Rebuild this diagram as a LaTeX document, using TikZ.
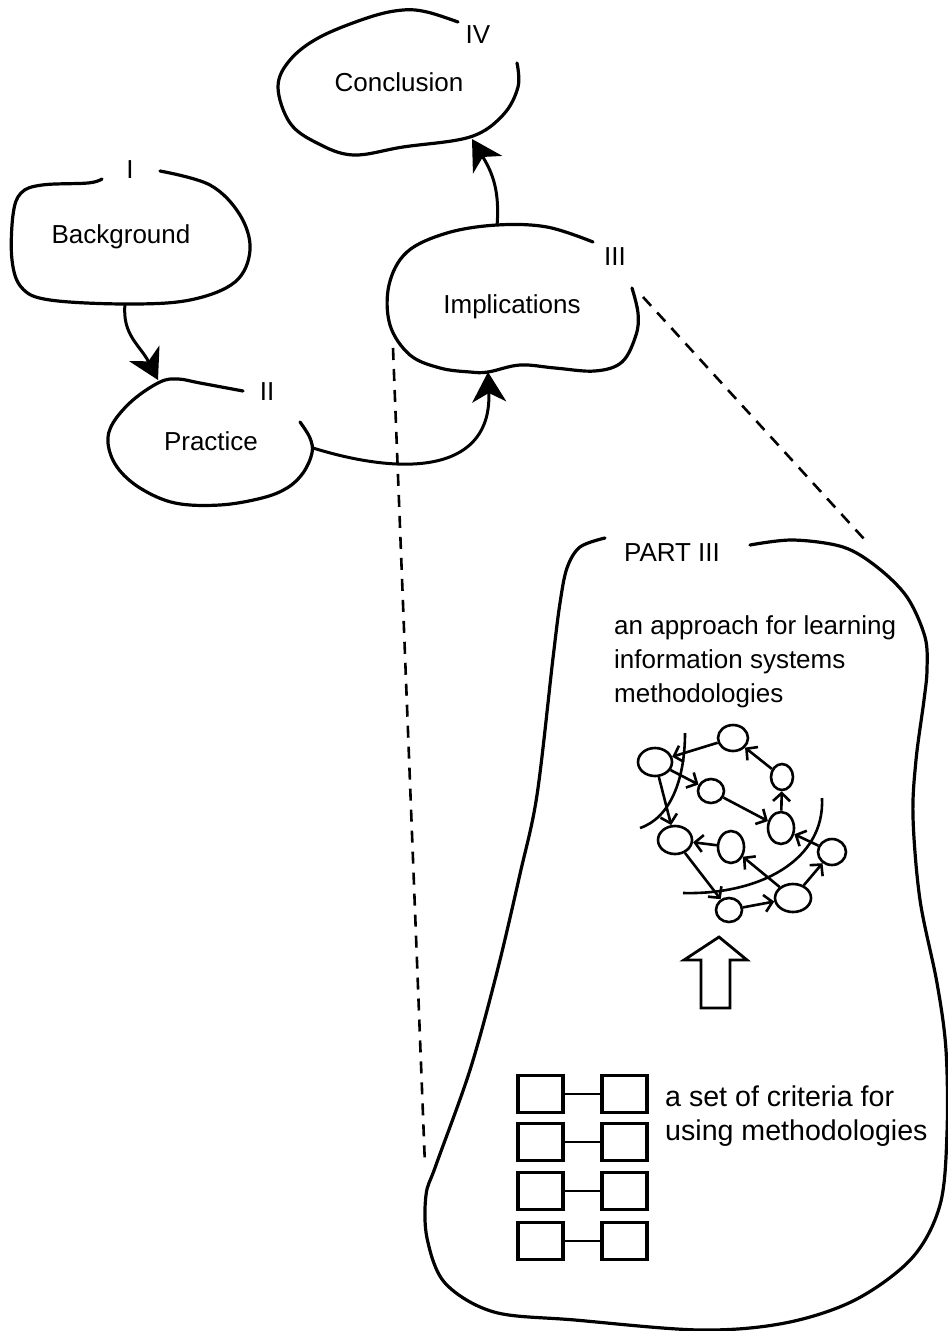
\documentclass[tikz,border=0pt]{standalone}
\usepackage{fontspec}
\setmainfont{Liberation Sans}
\usetikzlibrary{arrows.meta,shapes.geometric}

\begin{document}
\begin{tikzpicture}[x=1pt,y=-1pt,
  blob/.style={line width=3.2pt, line join=round, line cap=round},
  lbl/.style={font=\fontsize{26}{34}\selectfont, inner sep=0pt, anchor=base},
  txt/.style={font=\fontsize{26}{34}\selectfont, inner sep=0pt, anchor=base west},
  bigtxt/.style={font=\fontsize{28.6}{34}\selectfont, inner sep=0pt, anchor=base west},
  flow/.style={line width=3pt, -{Stealth[length=30pt,width=34pt,inset=9pt]}},
  guide/.style={line width=2.6pt, dash pattern=on 12pt off 9pt},
  bubble/.style={draw, ellipse, line width=2.6pt, inner sep=0pt},
  netedge/.style={line width=2.6pt, -{Straight Barb[length=8pt,width=17pt]}},
  crit/.style={draw, rectangle, line width=3.2pt, minimum width=45pt, minimum height=37pt, inner sep=0pt},
  tie/.style={line width=2.8pt},
]
\useasboundingbox (0,0) rectangle (948,1331);

% ---- Conclusion (IV)
\draw[blob] plot[smooth, tension=0.6] coordinates {
  (458,22) (427,12) (403,10) (370,17) (320,37) (290,60) (278,87) (290,123)
  (317,143) (353,155) (403,147) (470,137) (503,115) (518,87) (517,63)};
\node[lbl] (numIV) at (478,43) {IV};
\node[lbl] (conclusion) at (399,91) {Conclusion};
\coordinate (conIn) at (472,139);

% ---- Background (I)
\draw[blob] plot[smooth, tension=0.6] coordinates {
  (102,179) (88,183) (42,185) (21,193) (13,215) (12,260) (22,288) (50,300)
  (127,304) (190,300) (235,282) (250,250) (240,215) (210,185) (160,171)};
\node[lbl] (numI) at (130,178) {I};
\node[lbl] (background) at (121,243) {Background};
\coordinate (bgOut) at (125,304);

% ---- Practice (II)
\draw[blob] plot[smooth, tension=0.6] coordinates {
  (243,391) (200,383) (178,379) (160,382) (133,400) (113,423) (108,443)
  (117,467) (140,488) (175,503) (220,505) (262,498) (287,488) (303,473)
  (312,453) (310,438) (300,422)};
\node[lbl] (numII) at (267,400) {II};
\node[lbl] (practice) at (211,450) {Practice};
\coordinate (prIn) at (158,380);
\coordinate (prOut) at (313,448);

% ---- Implications (III)
\draw[blob] plot[smooth, tension=0.6] coordinates {
  (593,242) (547,227) (497,225) (447,233) (407,252) (389,285) (390,325)
  (410,355) (440,368) (470,372) (488,372) (520,365) (555,368) (595,371)
  (622,362) (636,335) (638,313) (632,288)};
\node[lbl] (numIII) at (615,265) {III};
\node[lbl] (implications) at (512,313) {Implications};
\coordinate (imIn) at (488,372);
\coordinate (imOut) at (497,226);
\coordinate (imL) at (393,348);
\coordinate (imR) at (643,297);

% ---- connectors between the parts
\draw[flow] (bgOut) .. controls (122,335) and (140,345) .. (prIn);
\draw[flow] (prOut) .. controls (410,478) and (492,470) .. (imIn);
\draw[flow] (imOut) .. controls (500,190) and (492,172) .. (conIn);

% ---- PART III outline
\draw[blob] plot[smooth, tension=0.55] coordinates {
  (605,538) (580,547) (567,568) (560,603) (553,658) (537,795) (520,874)
  (497,972) (470,1070) (436,1165) (426,1195) (427,1238) (445,1283)
  (494,1312) (575,1320) (700,1330) (785,1323) (855,1300) (912,1258)
  (940,1205) (947,1133) (946,1050) (937,983) (920,900) (913,817)
  (916,760) (924,700) (927,670) (925,637) (907,597) (877,567) (843,547)
  (793,540) (750,545)};
\coordinate (ptL) at (425,1166);
\coordinate (ptR) at (865,540);
\node[lbl] (partIII) at (672,561) {PART III};

% ---- dashed guides
\draw[guide] (imL) -- (ptL);
\draw[guide] (imR) -- (ptR);

% ---- approach text
\node[txt] (apA) at (614,634) {an approach for learning};
\node[txt] (apB) at (614,668) {information systems};
\node[txt] (apC) at (614,702) {methodologies};

% ---- network of bubbles
\node[bubble, minimum width=34pt, minimum height=28pt] (n1)  at (655,762) {};
\node[bubble, minimum width=30pt, minimum height=26pt] (n2)  at (733,738) {};
\node[bubble, minimum width=26pt, minimum height=24pt] (n3)  at (711,791) {};
\node[bubble, minimum width=22pt, minimum height=26pt] (n4)  at (782,777) {};
\node[bubble, minimum width=26pt, minimum height=32pt] (n5)  at (781,828) {};
\node[bubble, minimum width=34pt, minimum height=28pt] (n6)  at (675,840) {};
\node[bubble, minimum width=26pt, minimum height=32pt] (n7)  at (731,847) {};
\node[bubble, minimum width=28pt, minimum height=26pt] (n8)  at (832,852) {};
\node[bubble, minimum width=36pt, minimum height=28pt] (n9)  at (793,898) {};
\node[bubble, minimum width=26pt, minimum height=24pt] (n10) at (729,910) {};

\draw[netedge] (n2) -- (n1);
\draw[netedge] (n1) -- (n3);
\draw[netedge] (n1) -- (n6);
\draw[netedge] (n3) -- (n5);
\draw[netedge] (n4) -- (n2);
\draw[netedge] (n5) -- (n4);
\draw[netedge] (n7) -- (n6);
\draw[netedge] (n6) -- (n10);
\draw[netedge] (n10) -- (n9);
\draw[netedge] (n9) -- (n7);
\draw[netedge] (n9) -- (n8);
\draw[netedge] (n8) -- (n5);

% sweeping arcs through the network
\draw[line width=2.6pt] (685,733) .. controls (685,780) and (670,818) .. (640,828);
\draw[line width=2.6pt] (683,893) .. controls (760,895) and (825,860) .. (822,798);

% ---- hollow up arrow
\draw[line width=2.8pt, line join=miter]
  (719,937) -- (747,960) -- (730,960) -- (730,1008) -- (701,1008)
  -- (701,960) -- (684,960) -- cycle;

% ---- criteria boxes
\foreach \r/\y in {1/1094, 2/1142, 3/1191, 4/1241} {
  \node[crit] (cl\r) at (540.5,\y) {};
  \node[crit] (cr\r) at (624.5,\y) {};
  \draw[tie] (cl\r) -- (cr\r);
}

\node[bigtxt] (crA) at (665,1106) {a set of criteria for};
\node[bigtxt] (crB) at (665,1140) {using methodologies};

\end{tikzpicture}
\end{document}
